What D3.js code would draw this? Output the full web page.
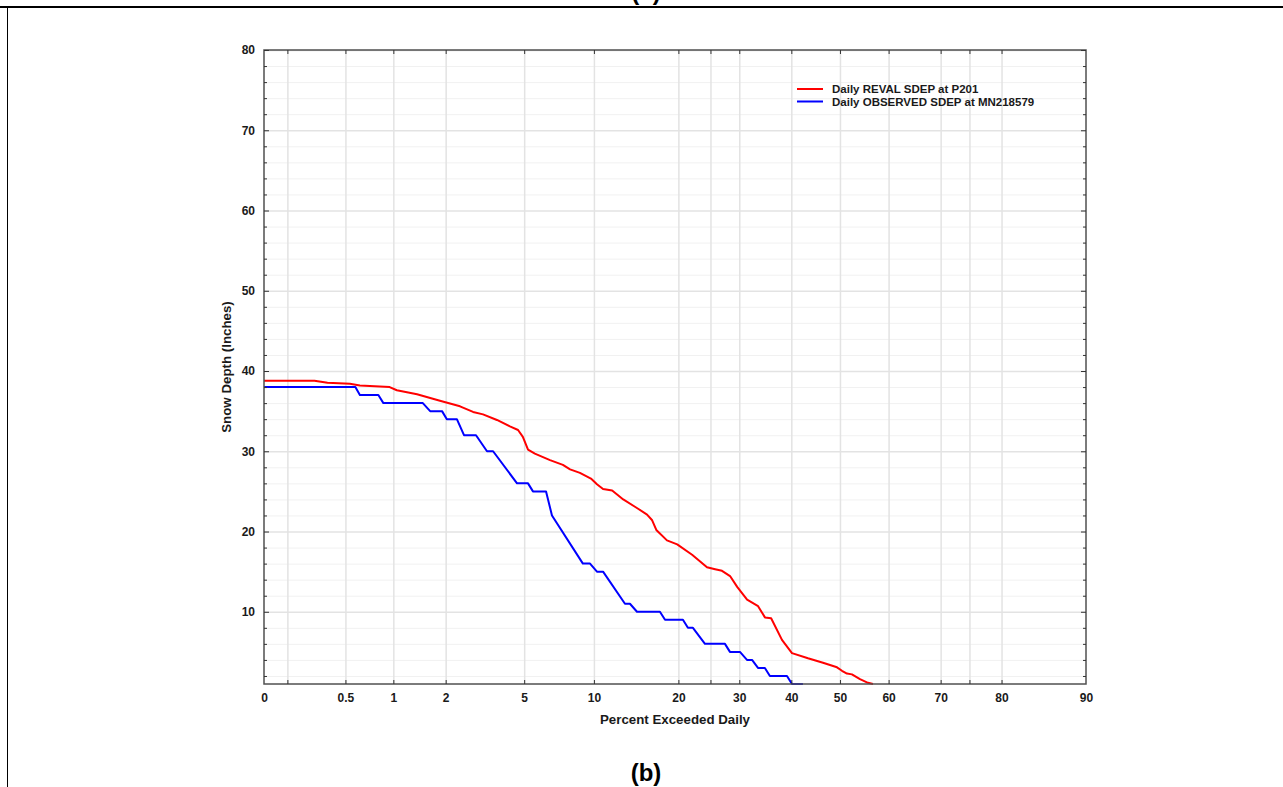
<!DOCTYPE html>
<html>
<head>
<meta charset="utf-8">
<script src="https://cdn.jsdelivr.net/npm/d3@7/dist/d3.min.js"></script>
<style>
  html, body { margin: 0; padding: 0; background: #fff; }
  svg { display: block; font-family: Arial, "Liberation Sans", sans-serif; }
</style>
</head>
<body>
<svg id="chart" width="1283" height="787"></svg>
<script>
// Exceedance curves of daily snow depth (percent of days exceeded, normal-probability axis)
const revalPct = [0.135, 0.31, 0.38, 0.535, 0.62, 0.95, 1.05, 1.38, 1.86, 2.39, 2.80, 3.15, 3.70, 4.28, 4.68, 4.93, 5.21, 5.60, 6.55, 7.45, 7.99, 8.78, 9.73, 10.28, 10.86, 11.77, 12.95, 14.56, 15.75, 16.40, 16.94, 18.38, 19.83, 22.06, 24.43, 25.78, 26.95, 28.35, 29.62, 31.43, 33.49, 34.80, 36.0, 38.13, 40.13, 43.39, 46.48, 49.38, 50.42, 51.45, 52.49, 54.15, 55.8, 56.83];
const revalDepth = [38.8, 38.8, 38.55, 38.4, 38.2, 38.0, 37.6, 37.1, 36.3, 35.6, 34.9, 34.6, 33.9, 33.1, 32.65, 31.8, 30.2, 29.7, 28.9, 28.3, 27.75, 27.3, 26.6, 25.9, 25.3, 25.1, 24.0, 22.9, 22.1, 21.4, 20.2, 18.9, 18.4, 17.1, 15.55, 15.3, 15.1, 14.45, 13.1, 11.5, 10.7, 9.3, 9.2, 6.5, 4.85, 4.2, 3.65, 3.08, 2.65, 2.3, 2.2, 1.6, 1.15, 1.0];

const observedPct = [0.135, 0.58, 0.62, 0.81, 0.87, 1.49, 1.64, 1.91, 2.03, 2.30, 2.51, 2.90, 3.30, 3.54, 4.63, 5.21, 5.49, 6.29, 6.68, 9.03, 9.65, 10.28, 10.86, 13.14, 13.70, 14.52, 17.42, 18.11, 20.67, 21.42, 22.19, 24.10, 27.46, 28.33, 30.12, 31.41, 32.35, 33.47, 34.79, 35.76, 39.13, 40.13, 42.35];
const observedDepth = [38, 38, 37, 37, 36, 36, 35, 35, 34, 34, 32, 32, 30, 30, 26, 26, 25, 25, 22, 16, 16, 15, 15, 11, 11, 10, 10, 9, 9, 8, 8, 6, 6, 5, 5, 4, 4, 3, 3, 2, 2, 1, 1];

const seriesNames = ["Daily REVAL SDEP at P201", "Daily OBSERVED SDEP at MN218579"];
const seriesColors = ["#ff0000", "#0000ff"];

const xDomainPct = [0.135, 90];
const xTickPct = [0.135, 0.2, 0.5, 1, 2, 5, 10, 20, 25, 30, 40, 50, 60, 70, 75, 80, 90];
const xTickLabels = ["0", "", "0.5", "1", "2", "5", "10", "20", "", "30", "40", "50", "60", "70", "", "80", "90"];
const yDomain = [1, 80];
const yMajorTicks = [10, 20, 30, 40, 50, 60, 70, 80];
const yMinorTicks = d3.range(2, 80, 2).filter(v => v % 10 !== 0);

// Inverse standard normal CDF (Acklam's rational approximation)
function probit(p) {
  const a = [-3.969683028665376e+01, 2.209460984245205e+02, -2.759285104469687e+02, 1.383577518672690e+02, -3.066479806614716e+01, 2.506628277459239e+00];
  const b = [-5.447609879822406e+01, 1.615858368580409e+02, -1.556989798598866e+02, 6.680131188771972e+01, -1.328068155288572e+01];
  const c = [-7.784894002430293e-03, -3.223964580411365e-01, -2.400758277161838e+00, -2.549732539343734e+00, 4.374664141464968e+00, 2.938163982698783e+00];
  const d = [7.784695709041462e-03, 3.224671290700398e-01, 2.445134137142996e+00, 3.754408661907416e+00];
  const pl = 0.02425, ph = 1 - pl;
  if (p < pl) {
    const q = Math.sqrt(-2 * Math.log(p));
    return (((((c[0]*q+c[1])*q+c[2])*q+c[3])*q+c[4])*q+c[5]) / ((((d[0]*q+d[1])*q+d[2])*q+d[3])*q+1);
  }
  if (p <= ph) {
    const q = p - 0.5, r = q * q;
    return (((((a[0]*r+a[1])*r+a[2])*r+a[3])*r+a[4])*r+a[5])*q / (((((b[0]*r+b[1])*r+b[2])*r+b[3])*r+b[4])*r+1);
  }
  const q = Math.sqrt(-2 * Math.log(1 - p));
  return -(((((c[0]*q+c[1])*q+c[2])*q+c[3])*q+c[4])*q+c[5]) / ((((d[0]*q+d[1])*q+d[2])*q+d[3])*q+1);
}
const z = pct => probit(pct / 100);

const plot = { left: 264, right: 1086, top: 50, bottom: 684 };
const W = plot.right - plot.left, H = plot.bottom - plot.top;

const xz = d3.scaleLinear().domain(xDomainPct.map(z)).range([0, W]);
const x = pct => xz(z(pct));
const y = d3.scaleLinear().domain(yDomain).range([H, 0]);

const svg = d3.select("#chart");
svg.append("rect").attr("width", 1283).attr("height", 787).attr("fill", "#fff");

// figure panel frame, with the bottom of the previous panel's caption above it
svg.append("text").attr("x", 646).attr("y", 0).attr("text-anchor", "middle")
  .attr("font-size", 24).attr("font-weight", "bold").attr("fill", "#000").text("(a)");
svg.append("line").attr("x1", 0).attr("x2", 1283).attr("y1", 7).attr("y2", 7)
  .attr("stroke", "#000").attr("stroke-width", 2);
svg.append("line").attr("x1", 7.5).attr("x2", 7.5).attr("y1", 7).attr("y2", 787)
  .attr("stroke", "#000").attr("stroke-width", 1);

const g = svg.append("g").attr("transform", `translate(${plot.left},${plot.top})`);

// grid
const gridStyle = (sel, color, width) => {
  sel.select(".domain").remove();
  sel.selectAll(".tick text").remove();
  sel.selectAll(".tick line").attr("stroke", color).attr("stroke-width", width);
};
g.append("g").call(d3.axisLeft(y).tickValues(yMinorTicks).tickSize(-W).tickFormat(""))
  .call(s => gridStyle(s, "#f1f1f1", 1));
g.append("g").call(d3.axisLeft(y).tickValues(yMajorTicks).tickSize(-W).tickFormat(""))
  .call(s => gridStyle(s, "#e3e3e3", 1.5));
g.append("g").attr("transform", `translate(0,${H})`)
  .call(d3.axisBottom(xz).tickValues(xTickPct.slice(1, -1).map(z)).tickSize(-H).tickFormat(""))
  .call(s => gridStyle(s, "#e3e3e3", 1.5));

// curves
const line = d3.line().x(d => x(d[0])).y(d => y(d[1]));
const revalData = revalPct.map((p, i) => [p, revalDepth[i]]);
const observedData = observedPct.map((p, i) => [p, observedDepth[i]]);
[revalData, observedData].forEach((data, i) => {
  g.append("path").datum(data).attr("d", line)
    .attr("fill", "none").attr("stroke", seriesColors[i]).attr("stroke-width", 2)
    .attr("stroke-linejoin", "round");
});

// frame
g.append("rect").attr("width", W).attr("height", H)
  .attr("fill", "none").attr("stroke", "#505050").attr("stroke-width", 1.5);

// inward ticks on all four sides
const tickStyle = sel => {
  sel.select(".domain").remove();
  sel.selectAll(".tick line").attr("stroke", "#333").attr("stroke-width", 1);
};
const labelStyle = sel => {
  sel.selectAll(".tick text").attr("font-size", 12).attr("font-weight", "bold")
    .attr("fill", "#1a1a1a").attr("font-family", "Arial, 'Liberation Sans', sans-serif");
};
// left: major + minor
g.append("g").call(d3.axisRight(y).tickValues(yMinorTicks).tickSize(3).tickFormat("")).call(tickStyle);
g.append("g").call(d3.axisLeft(y).tickValues(yMajorTicks).tickSize(0).tickPadding(9))
  .call(tickStyle).call(labelStyle);
g.append("g").call(d3.axisRight(y).tickValues(yMajorTicks).tickSize(5).tickFormat("")).call(tickStyle);
// right
g.append("g").attr("transform", `translate(${W},0)`)
  .call(d3.axisLeft(y).tickValues(yMinorTicks).tickSize(3).tickFormat("")).call(tickStyle);
g.append("g").attr("transform", `translate(${W},0)`)
  .call(d3.axisLeft(y).tickValues(yMajorTicks).tickSize(5).tickFormat("")).call(tickStyle);
// bottom
g.append("g").attr("transform", `translate(0,${H})`)
  .call(d3.axisTop(xz).tickValues(xTickPct.slice(1, -1).map(z)).tickSize(4).tickFormat("")).call(tickStyle);
g.append("g").attr("transform", `translate(0,${H})`)
  .call(d3.axisBottom(xz).tickValues(xTickPct.map(z)).tickSize(0).tickPadding(9)
    .tickFormat((v, i) => xTickLabels[i]))
  .call(tickStyle).call(labelStyle);
// top
g.append("g")
  .call(d3.axisBottom(xz).tickValues(xTickPct.slice(1, -1).map(z)).tickSize(4).tickFormat("")).call(tickStyle);

// axis titles
svg.append("text").attr("x", (plot.left + plot.right) / 2).attr("y", 723.5)
  .attr("text-anchor", "middle").attr("font-size", 13.3).attr("font-weight", "bold")
  .attr("fill", "#1a1a1a").text("Percent Exceeded Daily");
svg.append("text").attr("transform", `translate(231,${(plot.top + plot.bottom) / 2}) rotate(-90)`)
  .attr("text-anchor", "middle").attr("font-size", 13.3).attr("font-weight", "bold")
  .attr("fill", "#1a1a1a").text("Snow Depth (Inches)");

// legend
const legend = svg.append("g").attr("transform", "translate(797,89)");
seriesNames.forEach((name, i) => {
  const row = legend.append("g").attr("transform", `translate(0,${i * 12.5})`);
  row.append("line").attr("x1", 0).attr("x2", 26).attr("y1", 0).attr("y2", 0)
    .attr("stroke", seriesColors[i]).attr("stroke-width", 2);
  row.append("text").attr("x", 35).attr("y", 4).attr("font-size", 11.5).attr("font-weight", "bold")
    .attr("fill", "#1a1a1a").text(name);
});

// panel caption
svg.append("text").attr("x", 646).attr("y", 781).attr("text-anchor", "middle")
  .attr("font-size", 24).attr("font-weight", "bold").attr("fill", "#000").text("(b)");
</script>
</body>
</html>
